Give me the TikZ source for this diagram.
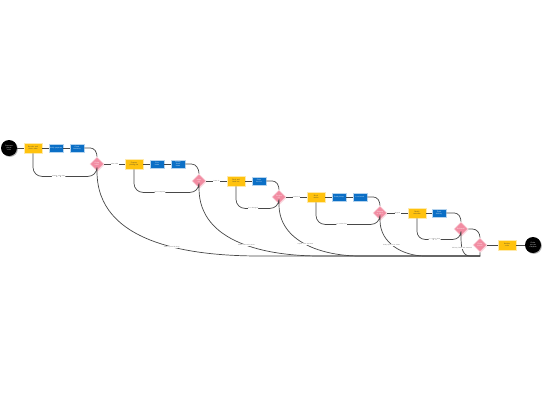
\documentclass[tikz,border=0pt]{standalone}
\usetikzlibrary{shapes.geometric,shadows,calc}

\definecolor{taskyellow}{HTML}{FFC20E}
\definecolor{taskblue}{HTML}{0B6FC6}
\definecolor{gatepink}{HTML}{F28CA2}
\definecolor{flowgray}{HTML}{474747}

\tikzset{
  every node/.style={font=\sffamily\fontsize{1.8}{2.1}\selectfont, align=center, inner sep=.4pt},
  ends/.style={circle, fill=black, text=white, minimum size=16pt,
    drop shadow={shadow xshift=.9pt, shadow yshift=-.9pt, fill=black!30, opacity=1}},
  ytask/.style={rectangle, fill=taskyellow, draw=taskyellow!35, line width=.7pt,
    minimum width=18pt, minimum height=10pt, text=black!80,
    drop shadow={shadow xshift=.8pt, shadow yshift=-.8pt, fill=taskyellow!35, opacity=1}},
  btask/.style={rectangle, fill=taskblue, draw=taskblue!30, line width=.7pt,
    minimum width=14pt, minimum height=8pt, text=white,
    drop shadow={shadow xshift=.8pt, shadow yshift=-.8pt, fill=taskblue!25, opacity=1}},
  gate/.style={diamond, fill=gatepink, draw=gatepink!35, line width=.8pt,
    minimum width=14pt, minimum height=14pt, inner sep=0pt, text=white,
    drop shadow={shadow xshift=.8pt, shadow yshift=-.8pt, fill=gatepink!30, opacity=1}},
  flow/.style={draw=flowgray, line width=.7pt},
  lbl/.style={fill=white, text=black!70, inner sep=.3pt, font=\sffamily\fontsize{1.6}{1.8}\selectfont},
}

\begin{document}
\begin{tikzpicture}[x=1pt,y=-1pt]
\useasboundingbox (0,0) rectangle (544,408);

% start and first group
\node[ends] (start) at (9,148) {Customer\\places\\order};
\node[ytask] (y1) at (33,148) {Receive and\\check order};
\node[btask] (b1) at (56,148) {Verify payment};
\node[btask] (b2) at (77,148) {Check\\inventory};
\node[gate] (d1) at (97,164) {Order\\valid?};

% second group
\node[ytask] (y2) at (134,164) {Prepare\\picking list};
\node[btask] (b3) at (157,164) {Pick\\items};
\node[btask] (b4) at (178,164) {Quality\\check\\items};
\node[gate] (d2) at (199,181) {Items\\ok?};

% third group
\node[ytask] (y3) at (236,181) {Pack and\\label box};
\node[btask] (b5) at (259,181) {Print\\invoice};
\node[gate] (d3) at (279,197) {Packed\\ok?};

% fourth group
\node[ytask] (y4) at (316,197) {Book\\carrier};
\node[btask] (b6) at (339,197) {Send pickup};
\node[btask] (b7) at (360,197) {Load truck};
\node[gate] (d4) at (380,213) {Shipped\\on time?};

% fifth group
\node[ytask] (y5) at (417,213) {Notify\\customer};
\node[btask] (b8) at (439,213) {Track\\delivery};
\node[gate] (d5) at (461,229) {Delivered?};

% closing
\node[gate] (d6) at (480,245) {Order\\closed?};
\node[ytask] (y6) at (507,245) {Archive\\order};
\node[ends] (stop) at (533,245) {Order\\process\\complete};
\coordinate (bot) at (480,256);

% main flow
\draw[flow] (start) -- (y1);
\draw[flow] (y1) -- (b1);
\draw[flow] (b1) -- (b2);
\draw[flow] (b2.east) -- ++(6,0) to[out=0,in=90] (d1.north);
\draw[flow] (d1) -- node[lbl] {order valid} (y2);
\draw[flow] (y2) -- (b3);
\draw[flow] (b3) -- (b4);
\draw[flow] (b4.east) -- ++(6,0) to[out=0,in=90] (d2.north);
\draw[flow] (d2) -- node[lbl] {items ok} (y3);
\draw[flow] (y3) -- (b5);
\draw[flow] (b5.east) -- ++(6,0) to[out=0,in=90] (d3.north);
\draw[flow] (d3) -- node[lbl] {packed ok} (y4);
\draw[flow] (y4) -- (b6);
\draw[flow] (b6) -- (b7);
\draw[flow] (b7.east) -- ++(6,0) to[out=0,in=90] (d4.north);
\draw[flow] (d4) -- node[lbl] {shipped} (y5);
\draw[flow] (y5) -- (b8);
\draw[flow] (b8.east) -- ++(8,0) to[out=0,in=90] (d5.north);
\draw[flow] (d5.east) -- ++(4,0) to[out=0,in=90] (d6.north);
\draw[flow] (d6) -- (y6);
\draw[flow] (y6) -- (stop);

% short ways round
\draw[flow,rounded corners=9pt] (y1.south) |- node[lbl,pos=.7] {missing order data} ($(d1.south)+(0,5)$) -- (d1.south);
\draw[flow,rounded corners=9pt] (y2.south) |- node[lbl,pos=.7] {list incomplete} ($(d2.south)+(0,4)$) -- (d2.south);
\draw[flow,rounded corners=9pt] (y3.south) |- node[lbl,pos=.7] {box damaged} ($(d3.south)+(0,4)$) -- (d3.south);
\draw[flow,rounded corners=9pt] (y4.south) |- node[lbl,pos=.7] {no carrier free} ($(d4.south)+(0,4)$) -- (d4.south);
\draw[flow,rounded corners=8pt] (y5.south) |- node[lbl,pos=.7] {no contact data} ($(d5.south)+(0,3)$) -- (d5.south);

% long ways to the end
\draw[flow] (d1.south) to[out=-90,in=180] node[lbl,pos=.6] {order rejected by shop} (260,256) -- (bot) -- (d6.south);
\draw[flow] (d2.south) to[out=-90,in=180] node[lbl,pos=.55] {items returned to stock} (320,256) -- (bot);
\draw[flow] (d3.south) to[out=-90,in=180] node[lbl,pos=.5] {repack order and wait} (360,256) -- (bot);
\draw[flow] (d4.south) to[out=-90,in=180] node[lbl,pos=.45] {delay reported to client} (425,256) -- (bot);
\draw[flow] (d5.south) to[out=-90,in=180] node[lbl,pos=.45] {delivery failed and returned} (470,256) -- (bot);

\end{tikzpicture}
\end{document}
